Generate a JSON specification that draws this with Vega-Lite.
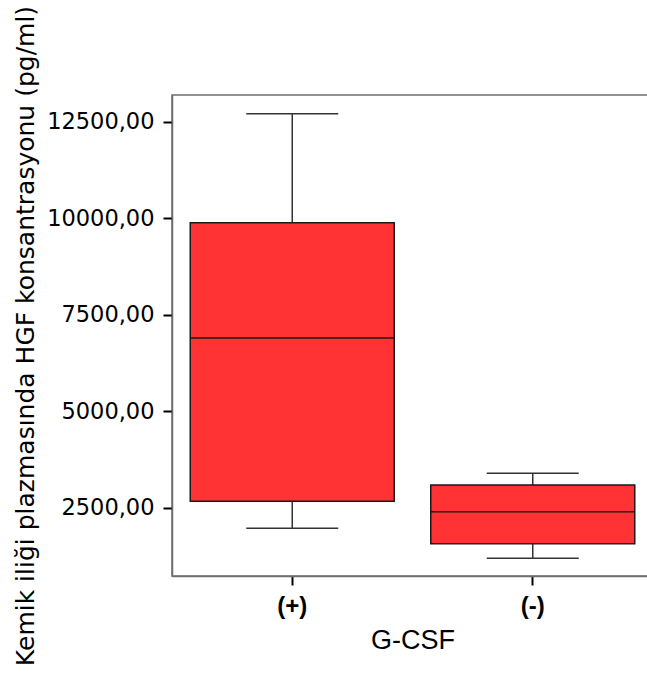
{
  "$schema": "https://vega.github.io/schema/vega-lite/v6.json",
  "width": 481,
  "height": 481,
  "autosize": "none",
  "padding": {"left": 172, "top": 95, "right": 0, "bottom": 104},
  "background": "white",
  "config": {
    "font": "DejaVu Sans",
    "view": {"stroke": "#6e6e6e", "strokeWidth": 1.5},
    "axis": {
      "domainColor": "#6e6e6e",
      "domainWidth": 1.5,
      "tickColor": "#000000",
      "tickWidth": 2,
      "tickSize": 9,
      "labelColor": "#000000",
      "titleColor": "#000000",
      "labelFont": "DejaVu Sans",
      "titleFont": "DejaVu Sans",
      "labelFontWeight": "normal",
      "titleFontWeight": "normal",
      "grid": false
    },
    "axisY": {
      "labelFontSize": 22.5,
      "titleFontSize": 25,
      "labelPadding": 9,
      "titlePadding": 8
    },
    "axisX": {
      "labelFont": "Liberation Sans",
      "labelFontWeight": "bold",
      "labelFontSize": 24,
      "titleFont": "Liberation Sans",
      "titleFontSize": 27,
      "labelPadding": 9,
      "titlePadding": 9,
      "labelAngle": 0
    }
  },
  "data": {
    "values": [
      {"group": "(+)", "lower": 1966, "q1": 2666, "median": 6896, "q3": 9883, "upper": 12707},
      {"group": "(-)", "lower": 1189, "q1": 1567, "median": 2396, "q3": 3088, "upper": 3391}
    ]
  },
  "encoding": {
    "x": {
      "field": "group",
      "type": "nominal",
      "sort": ["(+)", "(-)"],
      "title": "G-CSF",
      "scale": {"paddingInner": 0, "paddingOuter": 0}
    }
  },
  "layer": [
    {
      "mark": {"type": "rule", "color": "#333333", "strokeWidth": 1.5},
      "encoding": {
        "y": {
          "field": "lower",
          "type": "quantitative",
          "title": "Kemik iliği plazmasında HGF konsantrasyonu (pg/ml)",
          "scale": {"domain": [730, 13190], "nice": false, "zero": false},
          "axis": {
            "values": [2500, 5000, 7500, 10000, 12500],
            "labelExpr": "replace(format(datum.value, '.2f'), '.', ',')"
          }
        },
        "y2": {"field": "upper"}
      }
    },
    {
      "mark": {"type": "bar", "size": 204, "fill": "#ff3333", "stroke": "#1a1a1a", "strokeWidth": 1.5},
      "encoding": {
        "y": {
          "field": "q1",
          "type": "quantitative",
          "title": "Kemik iliği plazmasında HGF konsantrasyonu (pg/ml)",
          "axis": {
            "values": [2500, 5000, 7500, 10000, 12500],
            "labelExpr": "replace(format(datum.value, '.2f'), '.', ',')"
          }
        },
        "y2": {"field": "q3"}
      }
    },
    {
      "mark": {"type": "tick", "size": 204, "thickness": 1.5, "color": "#1a1a1a", "opacity": 1},
      "encoding": {
        "y": {
          "field": "median",
          "type": "quantitative",
          "title": "Kemik iliği plazmasında HGF konsantrasyonu (pg/ml)",
          "axis": {
            "values": [2500, 5000, 7500, 10000, 12500],
            "labelExpr": "replace(format(datum.value, '.2f'), '.', ',')"
          }
        }
      }
    },
    {
      "mark": {"type": "tick", "size": 92, "thickness": 1.5, "color": "#333333", "opacity": 1},
      "encoding": {
        "y": {
          "field": "upper",
          "type": "quantitative",
          "title": "Kemik iliği plazmasında HGF konsantrasyonu (pg/ml)",
          "axis": {
            "values": [2500, 5000, 7500, 10000, 12500],
            "labelExpr": "replace(format(datum.value, '.2f'), '.', ',')"
          }
        }
      }
    },
    {
      "mark": {"type": "tick", "size": 92, "thickness": 1.5, "color": "#333333", "opacity": 1},
      "encoding": {
        "y": {
          "field": "lower",
          "type": "quantitative",
          "title": "Kemik iliği plazmasında HGF konsantrasyonu (pg/ml)",
          "axis": {
            "values": [2500, 5000, 7500, 10000, 12500],
            "labelExpr": "replace(format(datum.value, '.2f'), '.', ',')"
          }
        }
      }
    }
  ]
}
